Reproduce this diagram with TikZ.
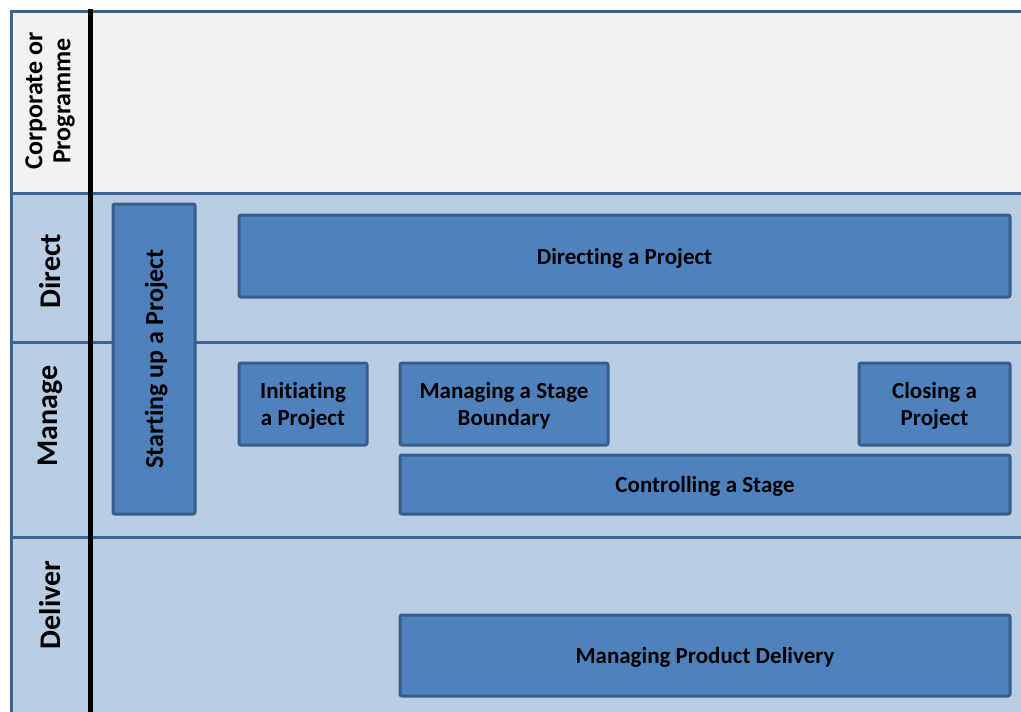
\documentclass[tikz,border=0pt]{standalone}
\usepackage{fontspec}
\setmainfont{Carlito}[Ligatures=CommonOff]
\usepackage{xcolor}
\usepackage{tikz}
\usetikzlibrary{positioning}
\definecolor{laneblue}{HTML}{B9CDE5}
\definecolor{lanegrey}{HTML}{F2F2F2}
\definecolor{laneedge}{HTML}{3B6292}
\definecolor{boxfill}{HTML}{4F81BD}
\definecolor{boxedge}{HTML}{385D8A}
\tikzstyle{lane} = [rectangle, draw=laneedge, line width=3pt, anchor=north west, inner sep=0pt]
\tikzstyle{lanelabel} = [rotate=90, align=center, font=\fontsize{30}{32}\selectfont\bfseries, inner sep=0pt]
\tikzstyle{process} = [rectangle, draw=boxedge, fill=boxfill, line width=3pt, rounded corners=2pt, align=center, text depth=0pt, font=\fontsize{23}{27}\selectfont\bfseries]

\begin{document}
\begin{tikzpicture}[x=1pt,y=-1pt]
    \useasboundingbox (0,0) rectangle (1021,712);
    \clip (0,0) rectangle (1021,712);

    % swim lanes
    \node[lane, fill=lanegrey, minimum width=1040pt, minimum height=182pt] (corp) at (10,10) {};
    \node[lane, fill=laneblue, minimum width=1040pt, minimum height=149pt] (dir) at (10,192) {};
    \node[lane, fill=laneblue, minimum width=1040pt, minimum height=195pt] (man) at (10,341) {};
    \node[lane, fill=laneblue, minimum width=1040pt, minimum height=200pt] (del) at (10,536) {};

    \node[lanelabel, font=\fontsize{26}{28}\selectfont\bfseries] (lcorp) at (50,101) {Corporate or\\Programme};
    \node[lanelabel] (ldir) at (50,271) {Direct};
    \node[lanelabel] (lman) at (50,416) {Manage};
    \node[lanelabel] (ldel) at (50,605) {Deliver};

    \coordinate (top) at (90,9);
    \coordinate (bottom) at (90,712);
    \draw[line width=5pt, black] (top) -- (bottom);

    % processes
    \node[process, rotate=90, minimum width=310pt, minimum height=82pt, font=\fontsize{26}{28}\selectfont\bfseries] (start) at (154,359) {Starting up a Project};
    \node[process, minimum width=771pt, minimum height=82pt] (directing) at (624.5,256) {Directing a Project};
    \node[process, minimum width=128pt, minimum height=82pt] (initiating) at (303,404) {Initiating\\a Project};
    \node[process, minimum width=208pt, minimum height=82pt] (boundary) at (504,404) {Managing a Stage\\Boundary};
    \node[process, minimum width=151pt, minimum height=82pt] (closing) at (934.5,404) {Closing a\\Project};
    \node[process, minimum width=610pt, minimum height=59pt] (controlling) at (705,484.5) {Controlling a Stage};
    \node[process, minimum width=610pt, minimum height=81pt] (delivery) at (705,655.5) {Managing Product Delivery};
\end{tikzpicture}
\end{document}
